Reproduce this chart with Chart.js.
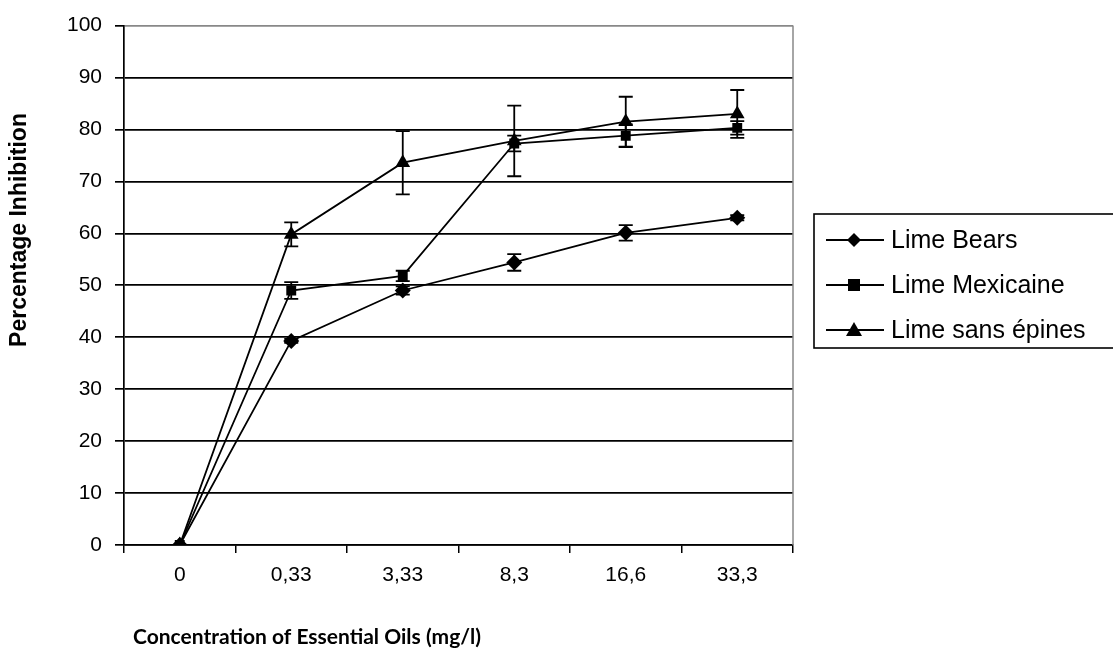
<!DOCTYPE html>
<html>
<head>
<meta charset="utf-8">
<script src="https://cdn.jsdelivr.net/npm/chart.js@4.4.1/dist/chart.umd.min.js"></script>
<style>
  html,body{margin:0;padding:0;background:#fff}
  #wrap{width:1113px;height:655px;position:relative}
</style>
</head>
<body>
<div id="wrap"><canvas id="c"></canvas></div>
<script>
// concentrations (mg/l)
const labels = ['0', '0,33', '3,33', '8,3', '16,6', '33,3'];
const yTicks = [0, 10, 20, 30, 40, 50, 60, 70, 80, 90, 100];

const bears     = [0, 39.3, 49.0, 54.4, 60.1, 63.0];
const bearsErr  = [0, 0.4, 0.8, 1.6, 1.5, 0.5];
const mexi      = [0, 49.0, 51.8, 77.3, 78.8, 80.3];
const mexiErr   = [0, 1.6, 1.0, 1.5, 2.2, 1.3];
const sans      = [0, 59.8, 73.6, 77.8, 81.5, 83.0];
const sansErr   = [0, 2.3, 6.1, 6.8, 4.8, 4.6];

const xTitle = 'Concentration of Essential Oils (mg/l)';
const yTitle = 'Percentage Inhibition';

const FONT = '"Liberation Sans", Arial, sans-serif';
const TFONT = 'Lato, "Open Sans", sans-serif';

function ds(label, data, err, style, r) {
  return {label, data, err, borderColor:'#000', backgroundColor:'#000', borderWidth:1.8,
    pointStyle:style, pointRadius:r, pointHoverRadius:r, pointBorderWidth:0, tension:0};
}

// error bars, right border, titles, legend
const extras = {
  id:'extras',
  afterDatasetsDraw(chart) {
    const ctx = chart.ctx, y = chart.scales.y;
    ctx.save();
    ctx.strokeStyle = '#000'; ctx.lineWidth = 1.8;
    chart.data.datasets.forEach((d, i) => {
      chart.getDatasetMeta(i).data.forEach((p, j) => {
        const e = d.err[j]; if (!e) return;
        const t = y.getPixelForValue(d.data[j] + e), b = y.getPixelForValue(d.data[j] - e);
        ctx.beginPath();
        ctx.moveTo(p.x, t); ctx.lineTo(p.x, b);
        ctx.moveTo(p.x - 7, t); ctx.lineTo(p.x + 7, t);
        ctx.moveTo(p.x - 7, b); ctx.lineTo(p.x + 7, b);
        ctx.stroke();
      });
    });
    ctx.restore();
  },
  afterDraw(chart) {
    const ctx = chart.ctx, a = chart.chartArea;
    ctx.save();
    ctx.strokeStyle = '#888'; ctx.lineWidth = 1.5;
    ctx.beginPath(); ctx.moveTo(a.right, a.top); ctx.lineTo(a.right, a.bottom); ctx.stroke();

    // axis titles
    ctx.fillStyle = '#000'; ctx.textBaseline = 'middle';
    ctx.font = 'bold 21px ' + TFONT; ctx.textAlign = 'left';
    ctx.fillText(xTitle, a.left + 9, 637);
    ctx.save();
    ctx.translate(20, 230); ctx.rotate(-Math.PI / 2);
    ctx.font = 'bold 23px ' + FONT; ctx.textAlign = 'center';
    ctx.fillText(yTitle, 0, 0);
    ctx.restore();

    // legend
    const lx = a.right + 21, ly = 214, lw = 340, lh = 134;
    ctx.strokeStyle = '#000'; ctx.lineWidth = 1.6;
    ctx.strokeRect(lx, ly, lw, lh);
    ctx.font = '25px ' + FONT; ctx.textAlign = 'left';
    chart.data.datasets.forEach((d, i) => {
      const cy = ly + 26 + i * 45;
      ctx.beginPath(); ctx.lineWidth = 1.8;
      ctx.moveTo(lx + 12, cy); ctx.lineTo(lx + 70, cy); ctx.stroke();
      const mx = lx + 40;
      ctx.beginPath();
      if (d.pointStyle === 'rectRot') {
        ctx.moveTo(mx, cy - 7); ctx.lineTo(mx + 7, cy); ctx.lineTo(mx, cy + 7); ctx.lineTo(mx - 7, cy);
      } else if (d.pointStyle === 'rect') {
        ctx.rect(mx - 6, cy - 6, 12, 12);
      } else {
        ctx.moveTo(mx, cy - 8); ctx.lineTo(mx + 8, cy + 6); ctx.lineTo(mx - 8, cy + 6);
      }
      ctx.closePath(); ctx.fill();
      ctx.fillText(d.label, lx + 77, cy + 1);
    });
    ctx.restore();
  }
};

new Chart(document.getElementById('c'), {
  type:'line',
  data:{labels, datasets:[
    ds('Lime Bears', bears, bearsErr, 'rectRot', 8),
    ds('Lime Mexicaine', mexi, mexiErr, 'rect', 7),
    ds('Lime sans épines', sans, sansErr, 'triangle', 8.5)
  ]},
  options:{
    responsive:true, maintainAspectRatio:false, animation:false,
    layout:{padding:{top:22, right:320, left:0, bottom:0}},
    plugins:{legend:{display:false}, tooltip:{enabled:false}},
    scales:{
      x:{
        offset:true,
        afterFit:s => { s.height = 110 },
        grid:{offset:true, drawOnChartArea:false, drawTicks:true, tickLength:8, color:'#000', lineWidth:1.5},
        border:{color:'#000', width:1.5},
        ticks:{color:'#000', font:{family:FONT, size:21}, padding:10}
      },
      y:{
        min:0, max:100,
        afterFit:s => { s.width = 124 },
        afterBuildTicks:s => { s.ticks = yTicks.map(v => ({value:v})) },
        grid:{color:c => c.tick && c.tick.value === 100 ? '#888' : '#000', tickColor:'#000', lineWidth:1.7, tickLength:9},
        border:{color:'#000', width:1.7},
        ticks:{color:'#000', font:{family:FONT, size:21}, padding:13}
      }
    }
  },
  plugins:[extras]
});
</script>
</body>
</html>
